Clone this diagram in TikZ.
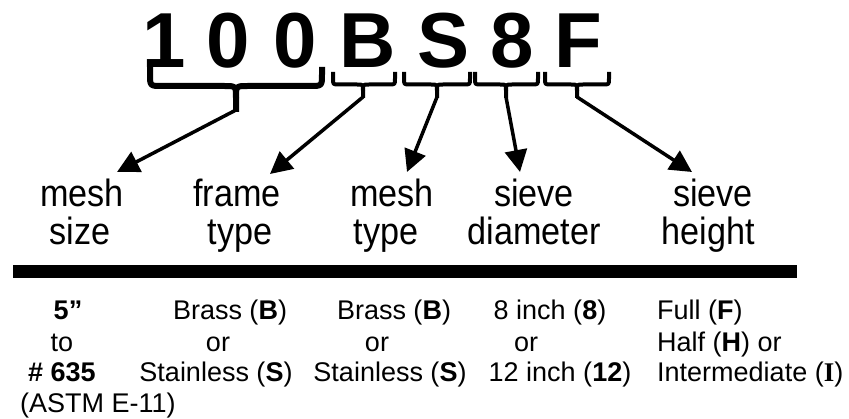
\documentclass[tikz,border=0pt]{standalone}
\usepackage{fontspec}
\setmainfont{Liberation Sans}
\newfontfamily\labfont[FakeStretch=0.9]{Liberation Sans}
\newfontfamily\serifI{Liberation Serif}
\usetikzlibrary{arrows.meta}
\begin{document}
\begin{tikzpicture}[x=1pt,y=-1pt,
  big/.style={inner sep=0pt,anchor=base,font=\fontsize{78}{80}\selectfont\bfseries},
  lab/.style={inner sep=0pt,anchor=base,font=\labfont\fontsize{38}{40}\selectfont},
  small/.style={inner sep=0pt,anchor=base,font=\fontsize{27}{31}\selectfont},
  smallL/.style={small,anchor=base west},
  bigbrace/.style={line width=6pt,line join=round},
  smallbrace/.style={line width=4pt,line join=round},
  arr/.style={line width=3.5pt,-{Triangle[length=22pt,width=22pt]}}]
\useasboundingbox (0,0) rectangle (849,419);
\fill[white] (0,0) rectangle (849,419);
% big code letters
\node[big] (c1) at (164,68) {1};
\node[big] (c2) at (228,68) {0};
\node[big] (c3) at (295,68) {0};
\node[big] (c4) at (368,68) {B};
\node[big] (c5) at (444,68) {S};
\node[big] (c6) at (512,68) {8};
\node[big] (c7) at (578,68) {F};
% braces
\newcommand\brc[7]{% style, x1, x2, xc, ytop, yh, ytip  (r fixed via #1)
}
% big brace for 100
\draw[bigbrace] (150,67) -- (150,74) .. controls (150,86) .. (162,86) -- (224,86) .. controls (236,86) .. (236,98) -- (236,112);
\draw[bigbrace] (322,67) -- (322,74) .. controls (322,86) .. (310,86) -- (248,86) .. controls (236,86) .. (236,98);
\coordinate (b1) at (236,110);
% small braces
\foreach \xa/\xb/\xc/\nm in {333/395/363/b2, 404/470/437/b3, 475/538/506/b4, 545/609/577/b5}{
  \draw[smallbrace] (\xa,72) -- (\xa,78.5) .. controls (\xa,84.5) .. ({\xa+6},84.5) -- ({\xc-6},84.5) .. controls (\xc,84.5) .. (\xc,90.5) -- (\xc,98);
  \draw[smallbrace] (\xb,72) -- (\xb,78.5) .. controls (\xb,84.5) .. ({\xb-6},84.5) -- ({\xc+6},84.5) .. controls (\xc,84.5) .. (\xc,90.5);
  \coordinate (\nm) at (\xc,97);
}
% arrow tips
\coordinate (t1) at (117,172);
\coordinate (t2) at (270,174);
\coordinate (t3) at (407,172);
\coordinate (t4) at (520,172);
\coordinate (t5) at (692,172);
\draw[arr] (b1) -- (t1);
\draw[arr] (b2) -- (t2);
\draw[arr] (b3) -- (t3);
\draw[arr] (b4) -- (t4);
\draw[arr] (b5) -- (t5);
% labels
\node[lab] (l1a) at (82,207) {mesh};
\node[lab] (l1b) at (80,245) {size};
\node[lab] (l2a) at (237,207) {frame};
\node[lab] (l2b) at (240,245) {type};
\node[lab] (l3a) at (392,207) {mesh};
\node[lab] (l3b) at (386,245) {type};
\node[lab] (l4a) at (534,207) {sieve};
\node[lab] (l4b) at (534,245) {diameter};
\node[lab] (l5a) at (713,207) {sieve};
\node[lab] (l5b) at (708,245) {height};
% bar
\fill (13,265) rectangle (797,278);
% bottom text
\node[small] (d1a) at (68,320) {\bfseries 5”};
\node[small] (d1b) at (62,352) {to};
\node[small] (d1c) at (62,382) {\bfseries \# 635};
\node[smallL] (d1d) at (20,413) {(ASTM E-11)};
\node[small] (d2a) at (230,320) {Brass (\textbf{B})};
\node[small] (d2b) at (218,352) {or};
\node[small] (d2c) at (216,382) {Stainless (\textbf{S})};
\node[small] (d3a) at (394,320) {Brass (\textbf{B})};
\node[small] (d3b) at (377,352) {or};
\node[small] (d3c) at (390,382) {Stainless (\textbf{S})};
\node[small] (d4a) at (550,320) {8 inch (\textbf{8})};
\node[small] (d4b) at (526,352) {or};
\node[small] (d4c) at (560,382) {12 inch (\textbf{12})};
\node[smallL] (d5a) at (657,320) {Full (\textbf{F})};
\node[smallL] (d5b) at (657,352) {Half (\textbf{H}) or};
\node[smallL] (d5c) at (657,382) {Intermediate ({\serifI\bfseries I})};
\end{tikzpicture}
\end{document}
